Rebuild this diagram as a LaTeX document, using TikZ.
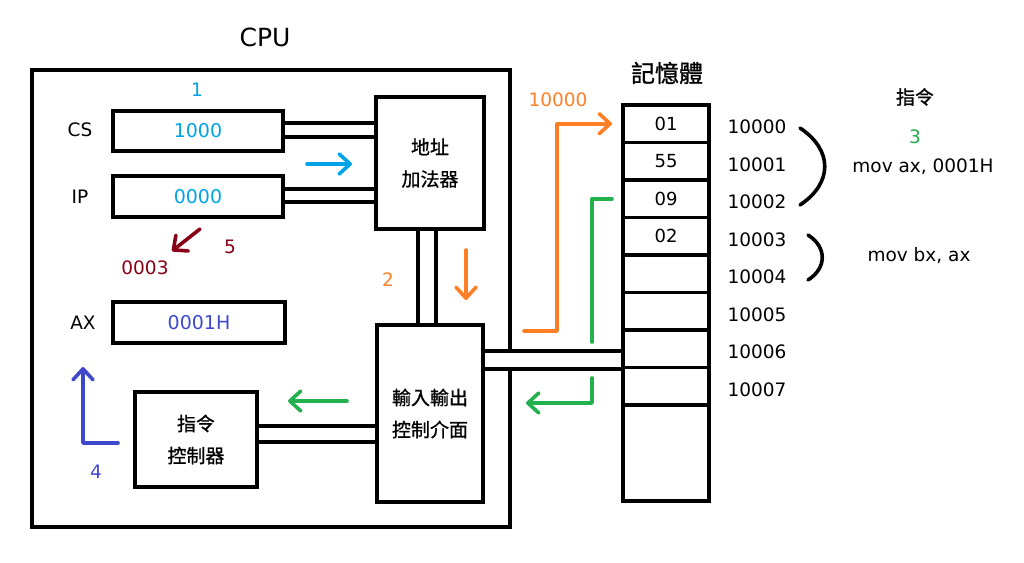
\documentclass[tikz,border=0pt]{standalone}
\usepackage{fontspec}
\setmainfont{DejaVu Sans}
\newfontfamily\cjk{Noto Sans CJK TC}[FakeBold=1]
\usetikzlibrary{arrows.meta,positioning}
\definecolor{paintcyan}{HTML}{00A2E8}
\definecolor{paintorange}{HTML}{FF7F27}
\definecolor{paintgreen}{HTML}{22B14C}
\definecolor{paintindigo}{HTML}{3F48CC}
\definecolor{paintred}{HTML}{880015}
\begin{document}
\begin{tikzpicture}[x=1pt,y=-1pt,line width=3.6pt,
  box/.style={draw,rectangle,inner sep=0pt,outer sep=0pt},
  reg/.style={box,minimum width=170pt,minimum height=40pt,font=\fontsize{19}{23}\selectfont,text=paintcyan},
  unit/.style={box,align=center,font=\fontsize{19}{32}\selectfont\cjk},
  cell/.style={box,minimum width=86pt,minimum height=37.5pt,font=\fontsize{18}{22}\selectfont},
  lbl/.style={font=\fontsize{18.5}{22}\selectfont},
  arr/.style={line cap=round,line join=round,-{Straight Barb[length=11pt,width=20pt,round]}},
  brace/.style={line cap=round}]
\useasboundingbox (0,0) rectangle (1024,562);
% CPU
\node[box,minimum width=478pt,minimum height=457pt] (cpu) at (271,298.5) {};
\node[font=\fontsize{25}{30}\selectfont] (cpulbl) at (265,37) {CPU};
\node[reg] (cs) at (198,131) {1000};
\node[reg,minimum height=41pt] (ip) at (198,196.5) {0000};
\node[reg,minimum width=172pt,minimum height=41pt,text=paintindigo] (ax) at (199,322.5) {0001H};
\node[lbl] (cslbl) at (80,130) {CS};
\node[lbl] (iplbl) at (80,197) {IP};
\node[lbl] (axlbl) at (83,323) {AX};
\node[unit,minimum width=108pt,minimum height=132pt] (add) at (430,163) {地址\\加法器};
\node[unit,minimum width=106pt,minimum height=177pt] (io) at (430,413.5) {輸入輸出\\控制介面};
\node[unit,minimum width=122pt,minimum height=95pt] (ctl) at (196,439.5) {指令\\控制器};
% buses
\draw ([yshift=8pt]cs.east) -- ([yshift=8pt]cs.east -| add.west);
\draw ([yshift=-6pt]cs.east) -- ([yshift=-6pt]cs.east -| add.west);
\draw ([yshift=7.5pt]ip.east) -- ([yshift=7.5pt]ip.east -| add.west);
\draw ([yshift=-5.5pt]ip.east) -- ([yshift=-5.5pt]ip.east -| add.west);
\draw ([xshift=-12pt]add.south) -- ([xshift=-12pt]add.south |- io.north);
\draw ([xshift=6pt]add.south) -- ([xshift=6pt]add.south |- io.north);
\draw ([yshift=13.5pt]ctl.east) -- ([yshift=13.5pt]ctl.east -| io.west);
\draw ([yshift=-2.5pt]ctl.east) -- ([yshift=-2.5pt]ctl.east -| io.west);
% memory
\node[cell] (m1) at (666,123.75) {01};
\node[cell,below=0pt of m1] (m2) {55};
\node[cell,below=0pt of m2] (m3) {09};
\node[cell,below=0pt of m3] (m4) {02};
\node[cell,below=0pt of m4] (m5) {};
\node[cell,below=0pt of m5] (m6) {};
\node[cell,below=0pt of m6] (m7) {};
\node[cell,below=0pt of m7] (m8) {};
\node[cell,below=0pt of m8,minimum height=96pt] (m9) {};
\node[font=\fontsize{24}{28}\selectfont\cjk] (memlbl) at (667,73) {記憶體};
\fill[white] ([xshift=3pt,yshift=62.5pt]io.east) rectangle ([xshift=-3pt,yshift=44.5pt]io.east -| m1.west);
\draw ([yshift=62.5pt]io.east) -- ([yshift=62.5pt]io.east -| m1.west);
\draw ([yshift=44.5pt]io.east) -- ([yshift=44.5pt]io.east -| m1.west);
\foreach \a [count=\i] in {10000,10001,10002,10003,10004,10005,10006,10007}
  \node[lbl] (ad\i) at (757,{127+37.5*(\i-1)}) {\a};
\draw[brace] (800,128) .. controls (833,150) and (833,183) .. (800,205);
\draw[brace] (808,235) .. controls (827,247) and (827,268) .. (808,280);
\node[font=\fontsize{19}{23}\selectfont\cjk] (inslbl) at (915,97) {指令};
\node[lbl,text=paintgreen] (n3) at (915,137) {3};
\node[lbl] (ins1) at (923,167) {mov ax, 0001H};
\node[lbl] (ins2) at (919,256) {mov bx, ax};
% steps
\node[lbl,text=paintcyan] (n1) at (197,90) {1};
\node[lbl,text=paintorange] (n2) at (388,280) {2};
\node[lbl,text=paintindigo] (n4) at (96,472) {4};
\node[lbl,text=paintred] (n5) at (230,247) {5};
\node[lbl,text=paintred] (ipnew) at (145,268) {0003};
\node[lbl,text=paintorange] (addr) at (558,100) {10000};
\coordinate (bl0) at (307,164); \coordinate (bl1) at (352,164);
\coordinate (or0) at (466,250); \coordinate (or1) at (466,300);
\coordinate (dr0) at (200,229); \coordinate (dr1) at (172,251);
\coordinate (in0) at (118,443); \coordinate (in1) at (83,367);
\coordinate (gl0) at (347,401); \coordinate (gl1) at (288,401);
\coordinate (o0) at (524,331);
\coordinate (g0) at (592,342); \coordinate (g1) at (592,378); \coordinate (g2) at (526,403);
\draw[arr,paintcyan] (bl0) -- (bl1);
\draw[arr,paintorange] (or0) -- (or1);
\draw[arr,paintred] (dr0) -- (dr1);
\draw[arr,paintindigo] (in0) -| (in1);
\draw[arr,paintgreen] (gl0) -- (gl1);
\draw[arr,paintorange] (o0) -| ([xshift=-66pt]m1.west) -- ([xshift=-11pt]m1.west);
\draw[paintgreen,line cap=round,line join=round] ([xshift=-11pt]m3.west) -| (g0);
\draw[arr,paintgreen] (g1) |- (g2);
\end{tikzpicture}
\end{document}
